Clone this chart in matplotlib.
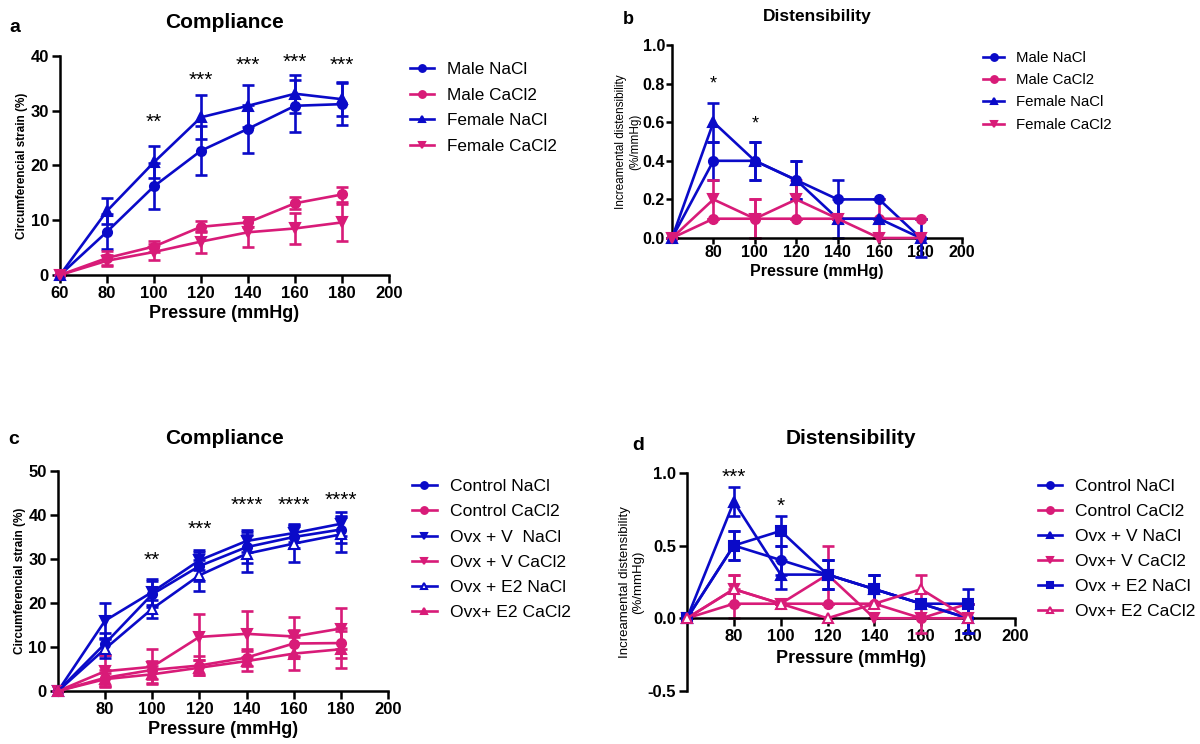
import matplotlib
matplotlib.use("Agg")
import matplotlib.pyplot as plt

plt.rcParams['font.family'] = ['Liberation Sans', 'DejaVu Sans']

BLUE = "#0A0AC8"
PINK = "#D81B78"

pressure = [60, 80, 100, 120, 140, 160, 180]

# panel a - compliance, male/female
a_male_nacl = [0, 7.9, 16.2, 22.7, 26.7, 30.9, 31.2]
a_male_nacl_err = [0, 3.2, 4.2, 4.5, 4.4, 4.7, 3.8]
a_male_cacl2 = [0, 3.1, 5.2, 8.8, 9.6, 13.1, 14.7]
a_male_cacl2_err = [0, 1.3, 1.0, 1.0, 0.9, 1.1, 1.3]
a_fem_nacl = [0, 11.7, 20.6, 28.8, 30.9, 33.1, 32.1]
a_fem_nacl_err = [0, 2.3, 2.9, 4.0, 3.8, 3.5, 3.1]
a_fem_cacl2 = [0, 2.6, 4.2, 6.1, 7.8, 8.5, 9.6]
a_fem_cacl2_err = [0, 1.0, 1.5, 2.0, 2.7, 2.8, 3.4]
a_stars_x = [100, 120, 140, 160, 180]
a_stars_y = [27.8, 35.6, 38.3, 38.8, 38.3]
a_stars = ["**", "***", "***", "***", "***"]

# panel b - distensibility, male/female
b_male_nacl = [0, 0.4, 0.4, 0.3, 0.2, 0.2, 0.0]
b_male_nacl_err = [0, 0.1, 0.1, 0.1, 0.1, 0.0, 0.0]
b_male_cacl2 = [0, 0.1, 0.1, 0.1, 0.1, 0.1, 0.1]
b_male_cacl2_err = [0, 0.0, 0.1, 0.0, 0.0, 0.1, 0.0]
b_fem_nacl = [0, 0.6, 0.4, 0.3, 0.1, 0.1, 0.0]
b_fem_nacl_err = [0, 0.1, 0.1, 0.1, 0.1, 0.0, 0.1]
b_fem_cacl2 = [0, 0.2, 0.1, 0.2, 0.1, 0.0, 0.0]
b_fem_cacl2_err = [0, 0.1, 0.1, 0.1, 0.0, 0.0, 0.0]
b_stars_x = [80, 100]
b_stars_y = [0.80, 0.59]
b_stars = ["*", "*"]

# panel c - compliance, ovx groups
c_ctrl_nacl = [0, 10.8, 22.0, 28.4, 32.7, 35.0, 36.7]
c_ctrl_nacl_err = [0, 2.5, 3.0, 3.3, 3.5, 2.5, 3.0]
c_ctrl_cacl2 = [0, 3.0, 4.8, 5.8, 7.6, 10.8, 10.9]
c_ctrl_cacl2_err = [0, 1.8, 2.0, 2.2, 2.0, 3.0, 3.5]
c_ovxv_nacl = [0, 16.0, 22.5, 29.7, 34.1, 35.9, 38.0]
c_ovxv_nacl_err = [0, 4.0, 3.0, 2.3, 2.4, 2.0, 2.8]
c_ovxv_cacl2 = [0, 4.5, 5.5, 12.3, 13.0, 12.4, 14.2]
c_ovxv_cacl2_err = [0, 3.6, 4.0, 5.3, 5.3, 4.4, 4.6]
c_ovxe_nacl = [0, 9.6, 18.7, 26.3, 31.2, 33.5, 35.6]
c_ovxe_nacl_err = [0, 2.2, 2.0, 3.5, 4.2, 4.2, 4.0]
c_ovxe_cacl2 = [0, 2.7, 3.8, 5.3, 6.8, 8.5, 9.5]
c_ovxe_cacl2_err = [0, 1.5, 2.0, 1.7, 2.3, 3.7, 4.2]
c_stars_x = [100, 120, 140, 160, 180]
c_stars_y = [29.8, 36.8, 42.2, 42.2, 43.3]
c_stars = ["**", "***", "****", "****", "****"]

# panel d - distensibility, ovx groups
d_ctrl_nacl = [0, 0.5, 0.4, 0.3, 0.2, 0.1, 0.0]
d_ctrl_nacl_err = [0, 0.1, 0.1, 0.1, 0.1, 0.0, 0.1]
d_ctrl_cacl2 = [0, 0.1, 0.1, 0.1, 0.1, 0.0, 0.1]
d_ctrl_cacl2_err = [0, 0.1, 0.0, 0.0, 0.0, 0.1, 0.0]
d_ovxv_nacl = [0, 0.8, 0.3, 0.3, 0.2, 0.1, 0.0]
d_ovxv_nacl_err = [0, 0.1, 0.1, 0.1, 0.1, 0.0, 0.1]
d_ovxv_cacl2 = [0, 0.2, 0.1, 0.3, 0.0, 0.0, 0.0]
d_ovxv_cacl2_err = [0, 0.1, 0.0, 0.2, 0.0, 0.0, 0.0]
d_ovxe_nacl = [0, 0.5, 0.6, 0.3, 0.2, 0.1, 0.1]
d_ovxe_nacl_err = [0, 0.1, 0.1, 0.1, 0.1, 0.0, 0.1]
d_ovxe_cacl2 = [0, 0.2, 0.1, 0.0, 0.1, 0.2, 0.0]
d_ovxe_cacl2_err = [0, 0.1, 0.0, 0.0, 0.0, 0.1, 0.0]
d_stars_x = [80, 100]
d_stars_y = [0.97, 0.77]
d_stars = ["***", "*"]


def draw_series(ax, y, err, color, marker, label, hollow=False):
    ax.errorbar(pressure, y, yerr=err, fmt="none", ecolor=color, elinewidth=1.9,
                capsize=4, capthick=1.9, clip_on=False, zorder=2)
    line, = ax.plot(pressure, y, color=color, lw=1.9, marker=marker, ms=6.5,
                    mfc="white" if hollow else color, mec=color, mew=1.5,
                    label=label, clip_on=False, zorder=3)
    return line


def style_axes(ax, tick_size, pad=3.5, length=6):
    for s in ["top", "right"]:
        ax.spines[s].set_visible(False)
    for s in ["left", "bottom"]:
        ax.spines[s].set_linewidth(1.8)
    ax.tick_params(width=1.8, length=length, labelsize=tick_size, pad=pad)
    for lab in ax.get_xticklabels() + ax.get_yticklabels():
        lab.set_fontweight("bold")


def add_legend(handles, x, y, size, spacing, textpad=0.75):
    fig.legend(handles=handles, loc="upper left", bbox_to_anchor=(x / 1200, 1 - y / 744),
               frameon=False, fontsize=size, handlelength=1.4, handletextpad=textpad,
               labelspacing=spacing, borderpad=0, borderaxespad=0, markerscale=0.75)


fig = plt.figure(figsize=(12, 7.44), dpi=100)

# ---- a
ax = fig.add_axes([0.05, 0.6304, 0.2742, 0.2944])
h = [draw_series(ax, a_male_nacl, a_male_nacl_err, BLUE, "o", "Male NaCl"),
     draw_series(ax, a_male_cacl2, a_male_cacl2_err, PINK, "o", "Male CaCl2"),
     draw_series(ax, a_fem_nacl, a_fem_nacl_err, BLUE, "^", "Female NaCl"),
     draw_series(ax, a_fem_cacl2, a_fem_cacl2_err, PINK, "v", "Female CaCl2")]
ax.set_xlim(60, 200)
ax.set_ylim(0, 40)
ax.set_xticks(range(60, 201, 20))
ax.set_yticks(range(0, 41, 10))
style_axes(ax, 12, pad=2)
ax.set_xlabel("Pressure (mmHg)", fontsize=13, fontweight="bold", labelpad=3)
ax.set_ylabel("Circumferencial strain (%)", fontsize=8.5, fontweight="bold", labelpad=2)
for x, y, s in zip(a_stars_x, a_stars_y, a_stars):
    ax.text(x, y, s, ha="center", va="center", fontsize=15)
add_legend(h, 410, 62, 12.3, 0.62)
fig.text(224 / 1200, 1 - 23 / 744, "Compliance", ha="center", va="center",
         fontsize=15, fontweight="bold")
fig.text(15 / 1200, 1 - 27 / 744, "a", ha="center", va="center", fontsize=14, fontweight="bold")

# ---- b
ax = fig.add_axes([0.56, 0.6801, 0.2417, 0.2594])
h = [draw_series(ax, b_male_nacl, b_male_nacl_err, BLUE, "o", "Male NaCl"),
     draw_series(ax, b_male_cacl2, b_male_cacl2_err, PINK, "o", "Male CaCl2"),
     draw_series(ax, b_fem_nacl, b_fem_nacl_err, BLUE, "^", "Female NaCl"),
     draw_series(ax, b_fem_cacl2, b_fem_cacl2_err, PINK, "v", "Female CaCl2")]
ax.set_xlim(60, 200)
ax.set_ylim(0, 1.0)
ax.set_xticks(range(80, 201, 20))
ax.set_yticks([0, 0.2, 0.4, 0.6, 0.8, 1.0])
ax.set_yticklabels(["0.0", "0.2", "0.4", "0.6", "0.8", "1.0"])
style_axes(ax, 11.5, pad=1, length=4)
ax.set_xlabel("Pressure (mmHg)", fontsize=11.5, fontweight="bold", labelpad=3)
ax.set_ylabel("Increamental distensibility\n(%/mmHg)", fontsize=8.5, labelpad=1)
for x, y, s in zip(b_stars_x, b_stars_y, b_stars):
    ax.text(x, y, s, ha="center", va="center", fontsize=13)
add_legend(h, 983, 51, 10.8, 0.55, textpad=0.8)
fig.text(817 / 1200, 1 - 16 / 744, "Distensibility", ha="center", va="center",
         fontsize=12.5, fontweight="bold")
fig.text(628 / 1200, 1 - 20 / 744, "b", ha="center", va="center", fontsize=13, fontweight="bold")

# ---- c
ax = fig.add_axes([0.0483, 0.0712, 0.275, 0.2957])
h = [draw_series(ax, c_ctrl_nacl, c_ctrl_nacl_err, BLUE, "o", "Control NaCl"),
     draw_series(ax, c_ctrl_cacl2, c_ctrl_cacl2_err, PINK, "o", "Control CaCl2"),
     draw_series(ax, c_ovxv_nacl, c_ovxv_nacl_err, BLUE, "v", "Ovx + V  NaCl"),
     draw_series(ax, c_ovxv_cacl2, c_ovxv_cacl2_err, PINK, "v", "Ovx + V CaCl2"),
     draw_series(ax, c_ovxe_nacl, c_ovxe_nacl_err, BLUE, "^", "Ovx + E2 NaCl", hollow=True),
     draw_series(ax, c_ovxe_cacl2, c_ovxe_cacl2_err, PINK, "^", "Ovx+ E2 CaCl2")]
ax.set_xlim(60, 200)
ax.set_ylim(0, 50)
ax.set_xticks(range(80, 201, 20))
ax.set_yticks(range(0, 51, 10))
style_axes(ax, 12, pad=2)
ax.set_xlabel("Pressure (mmHg)", fontsize=13, fontweight="bold", labelpad=3)
ax.set_ylabel("Circumferencial strain (%)", fontsize=8.5, fontweight="bold", labelpad=2)
for x, y, s in zip(c_stars_x, c_stars_y, c_stars):
    ax.text(x, y, s, ha="center", va="center", fontsize=15)
add_legend(h, 412, 479, 12.6, 0.57)
fig.text(224 / 1200, 1 - 438 / 744, "Compliance", ha="center", va="center",
         fontsize=15, fontweight="bold")
fig.text(14 / 1200, 1 - 440 / 744, "c", ha="center", va="center", fontsize=14, fontweight="bold")

# ---- d
ax = fig.add_axes([0.5725, 0.0712, 0.2733, 0.2934])
h = [draw_series(ax, d_ctrl_nacl, d_ctrl_nacl_err, BLUE, "o", "Control NaCl"),
     draw_series(ax, d_ctrl_cacl2, d_ctrl_cacl2_err, PINK, "o", "Control CaCl2"),
     draw_series(ax, d_ovxv_nacl, d_ovxv_nacl_err, BLUE, "^", "Ovx + V NaCl"),
     draw_series(ax, d_ovxv_cacl2, d_ovxv_cacl2_err, PINK, "v", "Ovx+ V CaCl2"),
     draw_series(ax, d_ovxe_nacl, d_ovxe_nacl_err, BLUE, "s", "Ovx + E2 NaCl"),
     draw_series(ax, d_ovxe_cacl2, d_ovxe_cacl2_err, PINK, "^", "Ovx+ E2 CaCl2", hollow=True)]
ax.set_xlim(60, 200)
ax.set_ylim(-0.5, 1.0)
ax.set_xticks(range(80, 201, 20))
ax.set_yticks([-0.5, 0.0, 0.5, 1.0])
ax.set_yticklabels(["-0.5", "0.0", "0.5", "1.0"])
ax.spines["bottom"].set_position(("data", 0))
style_axes(ax, 12, pad=2)
ax.set_xlabel("Pressure (mmHg)", fontsize=13, fontweight="bold")
ax.xaxis.set_label_coords(0.5, 0.19)
ax.set_ylabel("Increamental distensibility\n(%/mmHg)", fontsize=9.5, labelpad=2)
for x, y, s in zip(d_stars_x, d_stars_y, d_stars):
    ax.text(x, y, s, ha="center", va="center", fontsize=15)
add_legend(h, 1038, 479, 12.5, 0.57)
fig.text(851 / 1200, 1 - 439 / 744, "Distensibility", ha="center", va="center",
         fontsize=15, fontweight="bold")
fig.text(638 / 1200, 1 - 446 / 744, "d", ha="center", va="center", fontsize=14, fontweight="bold")

fig.savefig("out.png", dpi=100)
